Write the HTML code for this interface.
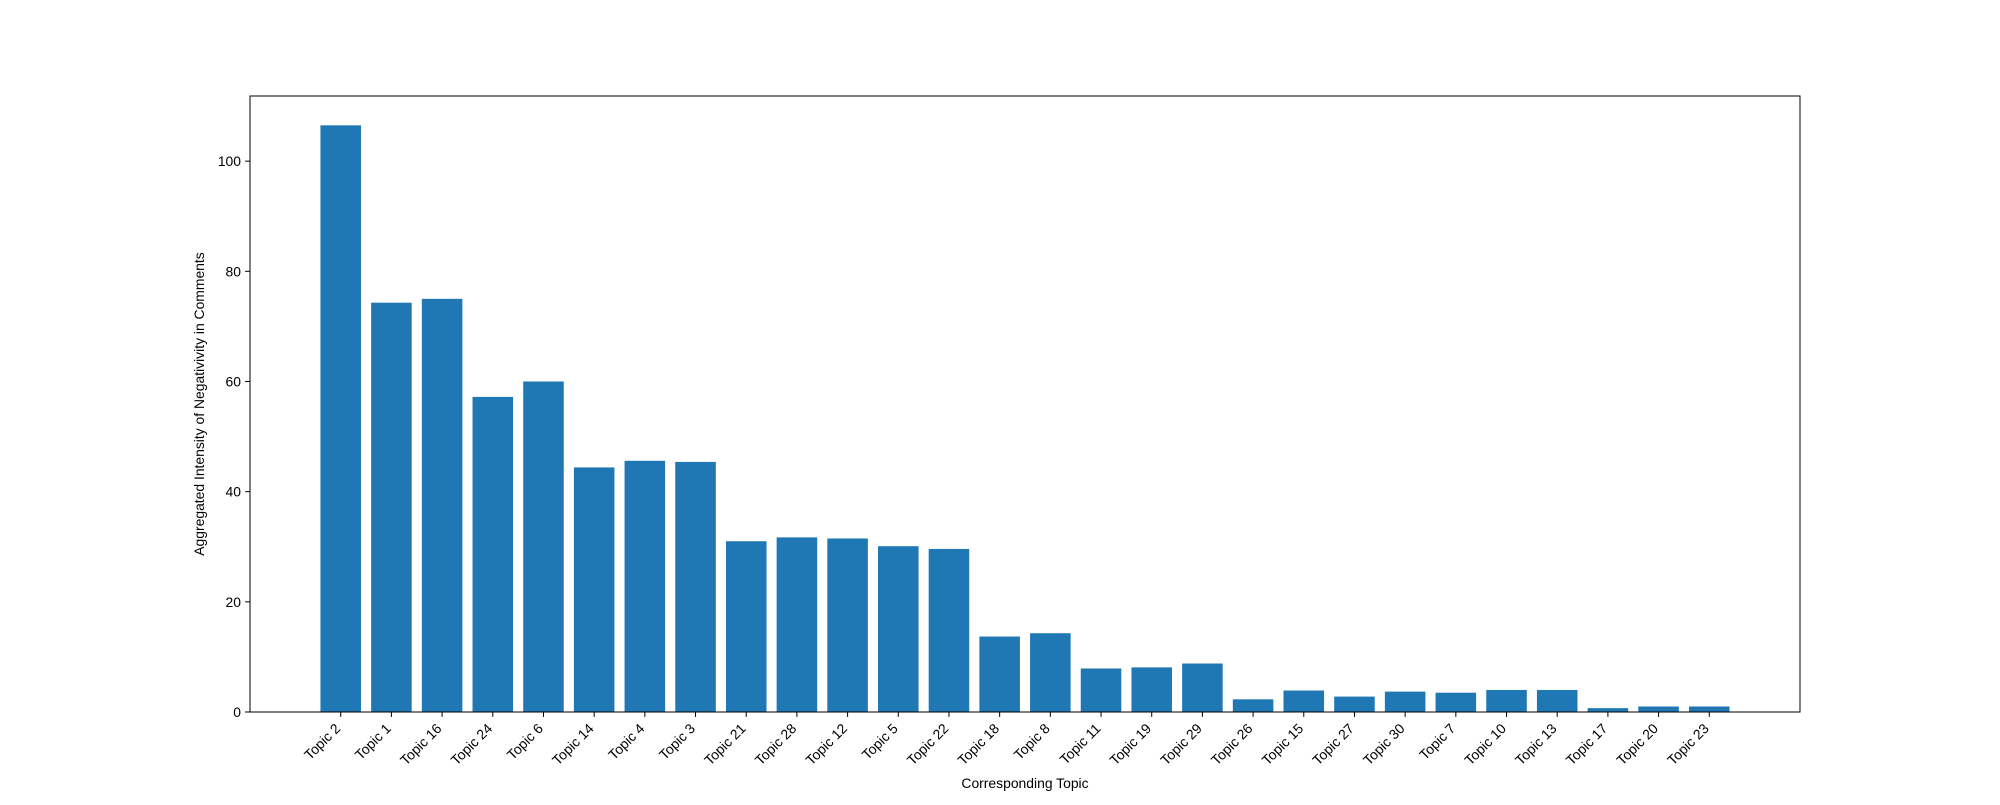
<!DOCTYPE html>
<html><head><meta charset="utf-8"><style>
body{margin:0;background:#fff}
svg text{font-family:"Liberation Sans","DejaVu Sans",sans-serif;font-size:13.9px;fill:#000}
</style></head><body>
<svg id="chart" width="2000" height="800"></svg>
<script>
const categories=["Topic 2","Topic 1","Topic 16","Topic 24","Topic 6","Topic 14","Topic 4","Topic 3","Topic 21","Topic 28","Topic 12","Topic 5","Topic 22","Topic 18","Topic 8","Topic 11","Topic 19","Topic 29","Topic 26","Topic 15","Topic 27","Topic 30","Topic 7","Topic 10","Topic 13","Topic 17","Topic 20","Topic 23"];
const values=[106.5,74.3,75.0,57.2,60.0,44.4,45.6,45.4,31.0,31.7,31.5,30.1,29.6,13.7,14.3,7.9,8.1,8.8,2.3,3.9,2.8,3.7,3.5,4.0,4.0,0.7,1.0,1.0];
const yTicks=[0,20,40,60,80,100];
const NS="http://www.w3.org/2000/svg";
const svg=document.getElementById('chart');
const L=250,R=1800,T=96,B=712;
const n=categories.length;
const xmin=-0.4-0.05*(n-1+0.8),xmax=n-1+0.4+0.05*(n-1+0.8);
const ymax=Math.max(...values)*1.05;
const xs=v=>L+(v-xmin)/(xmax-xmin)*(R-L);
const ys=v=>B-v/ymax*(B-T);
function mk(tag,attrs,parent){const e=document.createElementNS(NS,tag);for(const k in attrs)e.setAttribute(k,attrs[k]);(parent||svg).appendChild(e);return e;}
values.forEach((v,i)=>{
  const r=mk('rect',{x:xs(i-0.4),y:ys(v),width:xs(i+0.4)-xs(i-0.4),height:B-ys(v),fill:'#1f77b4'});
  
  
  const t=mk('line',{x1:xs(i),x2:xs(i),y1:B,y2:B+4.9,stroke:'#000','stroke-width':1});
  
  
  const x=xs(i)-3,y=B+14;
  const lb=mk('text',{x:x,y:y,'text-anchor':'end',transform:`rotate(-45 ${x} ${y})`,dy:'0.35em'});
  lb.textContent=categories[i];
  
  
});
yTicks.forEach(v=>{
  const t=mk('line',{x1:L-4.9,x2:L,y1:ys(v),y2:ys(v),stroke:'#000','stroke-width':1});
  
  
  const lb=mk('text',{x:L-9,y:ys(v)+5,'text-anchor':'end'});
  lb.textContent=v;
  
  
});
const fr=mk('rect',{x:L,y:T,width:R-L,height:B-T,fill:'none',stroke:'#000','stroke-width':1});


const xl=mk('text',{x:(L+R)/2,y:788,'text-anchor':'middle'});
xl.textContent='Corresponding Topic';


const yl=mk('text',{x:204,y:(T+B)/2,'text-anchor':'middle',transform:`rotate(-90 204 ${(T+B)/2})`});
yl.textContent='Aggregated Intensity of Negativivity in Comments';


</script>
</body></html>
